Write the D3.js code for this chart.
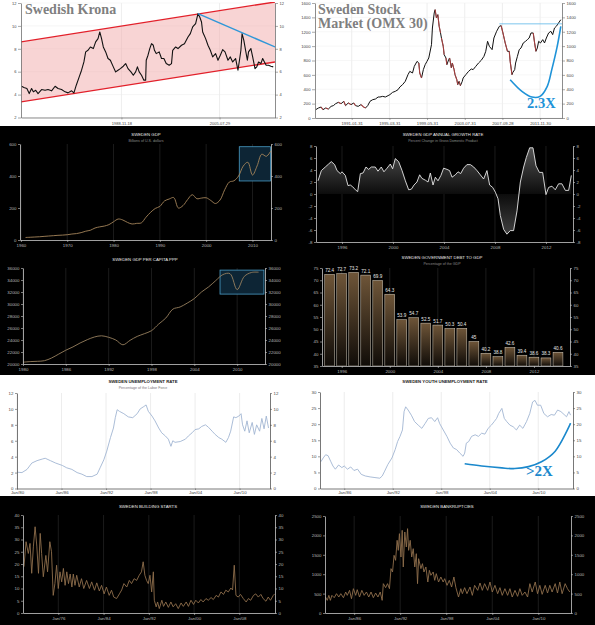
<!DOCTYPE html>
<html><head><meta charset="utf-8">
<script src="https://cdn.jsdelivr.net/npm/d3@7"></script>
<style>html,body{margin:0;padding:0;background:#fff;} svg{display:block;}</style>
</head><body>
<script>
// ---------------- DATA ----------------
// Swedish Krona (USD/SEK), decimal-year positions
const kronaYear = [1971.9,1972.3,1972.8,1973.2,1973.6,1973.9,1974.3,1974.7,1975.3,1975.9,1976.4,1977.0,1977.6,1978.1,1978.7,1979.3,1979.8,1980.4,1980.8,1981.2,1981.7,1982.1,1982.5,1982.8,1983.2,1983.6,1984.1,1984.5,1984.9,1985.2,1985.5,1985.8,1986.2,1986.6,1987.0,1987.5,1987.9,1988.3,1988.7,1989.2,1989.6,1990.0,1990.5,1990.9,1991.3,1991.6,1991.9,1992.3,1992.7,1993.0,1993.1,1993.4,1993.7,1994.0,1994.3,1994.5,1994.8,1995.3,1995.7,1996.1,1996.5,1997.0,1997.4,1997.6,1998.1,1998.5,1999.1,1999.6,2000.2,2000.6,2001.0,2001.5,2001.9,2002.2,2002.5,2002.7,2003.2,2003.6,2004.0,2004.4,2004.9,2005.3,2005.7,2006.1,2006.5,2007.0,2007.4,2007.8,2008.3,2008.7,2009.0,2009.2,2009.4,2009.7,2010.0,2010.3,2010.5,2010.9,2011.2,2011.6,2011.9,2012.2,2012.6,2012.9,2013.2,2013.5,2013.9,2014.3,2014.7];
const kronaValue = [4.73,4.62,4.53,4.09,4.53,4.24,4.38,4.09,4.44,4.38,4.44,4.33,4.73,4.53,4.44,4.24,4.15,4.33,4.15,4.82,5.55,6.13,6.85,7.73,7.87,8.16,8.02,8.6,8.89,9.47,8.89,8.16,7.73,7.15,7.0,6.42,5.98,6.13,6.27,6.48,6.71,6.27,5.98,5.69,5.98,6.42,5.98,5.69,5.26,5.26,7.0,7.44,8.02,8.45,8.31,7.87,7.58,7.73,7.15,7.15,6.71,6.56,6.71,7.87,8.16,8.02,8.31,8.45,9.03,9.33,9.91,10.2,11.07,10.78,10.34,9.47,8.89,8.31,7.87,7.29,7.58,7.0,7.44,7.93,7.73,7.0,7.29,6.85,7.15,6.13,7.15,7.87,9.33,8.74,7.87,7.0,7.73,8.02,7.29,6.27,6.42,6.85,6.71,7.15,6.85,6.56,6.56,6.48,6.42];
const kronaTickYears = [1988.88, 2005.57];
const kronaTickLabels = ["1988-11-18", "2005-07-29"];
const kronaYTicks = [2,4,6,8,10,12];
const channelYears = [1971.8, 2015.0];
const channelUpper = [8.6, 12.09];
const channelLower = [3.37, 6.85];
const kronaTrendYears = [2001.9, 2015.0];
const kronaTrendValues = [11.07, 8.16];

// Sweden Stock Market (OMX 30)
const omxYear = [1987.1,1987.4,1987.7,1987.9,1988.2,1988.5,1988.8,1989.05,1989.3,1989.6,1989.9,1990.2,1990.4,1990.7,1991.0,1991.3,1991.5,1991.8,1992.1,1992.4,1992.6,1992.85,1993.1,1993.4,1993.7,1994.0,1994.2,1994.5,1994.8,1995.1,1995.3,1995.6,1995.9,1996.2,1996.4,1996.7,1997.0,1997.3,1997.5,1997.8,1998.0,1998.3,1998.5,1998.6,1998.8,1999.0,1999.2,1999.4,1999.6,1999.9,2000.0,2000.2,2000.3,2000.45,2000.6,2000.75,2000.9,2001.0,2001.2,2001.3,2001.5,2001.6,2001.8,2001.9,2002.1,2002.2,2002.4,2002.5,2002.7,2002.8,2002.95,2003.1,2003.3,2003.4,2003.7,2004.0,2004.3,2004.5,2004.8,2005.1,2005.4,2005.7,2005.9,2006.1,2006.3,2006.6,2006.8,2007.1,2007.4,2007.6,2007.8,2008.05,2008.3,2008.5,2008.6,2008.8,2008.9,2009.1,2009.2,2009.4,2009.6,2009.8,2010.05,2010.3,2010.5,2010.7,2010.9,2011.15,2011.3,2011.45,2011.6,2011.75,2011.95,2012.2,2012.4,2012.6,2012.85,2013.1,2013.3,2013.5,2013.7,2013.95,2014.2];
const omxValue = [116,139,153,116,139,125,162,172,199,218,199,232,172,209,186,209,172,162,186,153,139,172,232,255,264,292,292,301,292,311,325,357,371,394,431,464,510,603,649,626,719,788,765,626,557,673,742,788,835,1020,1252,1461,1507,1391,1438,1275,1183,1113,997,881,835,742,812,835,696,765,673,603,533,464,510,450,510,557,603,649,682,673,719,765,802,858,928,1067,997,951,1113,1206,1275,1285,1183,1044,928,928,788,603,635,673,765,858,951,974,1044,1067,1090,1113,1183,1183,1044,928,974,1067,1044,1090,1044,1113,1183,1206,1160,1252,1275,1322,1368];
const omxTickYears = [1991.08, 1995.25, 1999.41, 2003.58, 2007.74, 2011.91];
const omxTickLabels = ["1991-01-31","1995-03-31","1999-05-31","2003-07-31","2007-09-28","2011-11-30"];
const omxYTicks = [0,200,400,600,800,1000,1200,1400,1600];
const omxLevelYears = [2007.4, 2014.33];
const omxLevelValue = 1310;
const omxCurveYears = [2008.6, 2009.9, 2011.0, 2011.9, 2012.7, 2013.2, 2013.8, 2014.2];
const omxCurveValues = [533, 371, 292, 301, 441, 673, 997, 1275];

// Sweden GDP (billions USD), annual, dated at year end
const gdpYear = d3.range(1960, 2014);
const gdpValue = [15.8,17.2,18.7,20.3,22.6,24.9,27.0,29.2,30.6,33.0,37.3,40.1,46.0,55.0,61.0,75.0,82.0,87.0,96.0,114,131,125,110,100,104,107,142,173,197,210,244,256,265,200,215,253,283,258,262,264,247,228,250,314,362,370,400,462,486,406,463,536,523,558];
const gdpXTicks = [1960,1970,1980,1990,2000,2010];
const gdpYTicks = [0,200,400,600];
const gdpBoxYears = [2007.15, 2013.9];
const gdpBoxValues = [369, 583];

// GDP annual growth rate (%), quarterly
const growthYear = [1994.12,1994.38,1994.69,1994.95,1995.16,1995.42,1995.61,1995.87,1996.0,1996.26,1996.47,1996.65,1996.84,1997.05,1997.23,1997.44,1997.65,1997.88,1998.09,1998.3,1998.61,1998.82,1999.08,1999.29,1999.53,1999.79,1999.97,2000.18,2000.44,2000.71,2000.97,2001.23,2001.44,2001.65,2001.88,2002.09,2002.27,2002.54,2002.75,2002.93,2003.14,2003.32,2003.53,2003.76,2003.97,2004.24,2004.44,2004.63,2004.89,2005.1,2005.31,2005.54,2005.8,2006.07,2006.33,2006.59,2006.85,2007.11,2007.37,2007.58,2007.82,2008.03,2008.24,2008.42,2008.68,2008.94,2009.2,2009.46,2009.73,2009.99,2010.25,2010.46,2010.72,2010.98,2011.22,2011.48,2011.74,2012.0,2012.21,2012.47,2012.73,2012.99,2013.25,2013.52,2013.78,2013.99];
const growthValue = [2.2,3.9,4.5,5.0,5.4,4.9,3.9,3.4,3.7,3.1,1.4,1.5,1.2,0.7,0.4,3.4,3.5,4.5,4.1,4.5,4.5,3.8,4.5,3.7,4.3,5.0,4.2,5.9,5.4,3.9,2.2,0.7,0.8,1.5,2.0,3.2,2.6,2.3,2.0,3.5,1.5,2.8,2.2,3.1,4.3,4.1,3.9,2.8,3.2,3.7,3.4,4.3,4.9,4.9,4.5,3.9,3.2,2.5,3.9,1.5,1.1,0.3,-0.8,-3.6,-5.9,-6.7,-6.1,-6.1,-2.8,2.0,4.5,6.1,7.7,7.7,4.7,3.6,3.6,-0.1,1.1,1.3,0.7,1.7,1.7,0.6,0.6,3.1];
const growthXTicks = [1996,2000,2004,2008,2012];
const growthYTicks = [-8,-6,-4,-2,0,2,4,6,8];

// GDP per capita PPP, annual, dated at year end
const pcYear = d3.range(1979, 2013);
const pcValue = [20300,20400,20450,20550,21000,21650,22300,22850,23500,24050,24500,24700,24450,24000,23200,23950,24600,25050,25550,26650,27650,29150,29500,30150,30900,32000,32850,33900,34900,35050,32400,34600,35250,35300];
const pcXTicks = [1980,1986,1992,1998,2004,2010];
const pcYTicks = [20000,22000,24000,26000,28000,30000,32000,34000,36000];
const pcBoxYears = [2007.6, 2013.75];
const pcBoxValues = [31650, 35650];

// Government debt to GDP (%), annual, dated at year end
const debtYear = d3.range(1994, 2014);
const debtValue = [72.4,72.7,73.2,72.1,69.9,64.3,53.9,54.7,52.5,51.7,50.3,50.4,45,40.2,38.8,42.6,39.4,38.6,38.3,40.6];
const debtXTicks = [1996,2000,2004,2008,2012];
const debtYTicks = [35,40,45,50,55,60,65,70,75];

// Unemployment rate (%)
const unempYear = [1980.0,1980.67,1981.35,1982.0,1982.7,1983.4,1983.8,1984.5,1985.2,1986.1,1986.7,1987.4,1988.1,1988.75,1989.4,1990.1,1990.8,1991.2,1991.7,1992.1,1992.6,1993.0,1993.25,1993.5,1993.8,1994.4,1995.0,1995.6,1996.2,1996.6,1997.1,1997.4,1997.7,1998.2,1998.6,1999.1,1999.5,2000.0,2000.4,2000.75,2001.0,2001.3,2002.0,2002.7,2003.1,2003.6,2004.0,2004.5,2004.9,2005.4,2005.8,2006.3,2006.7,2007.2,2007.6,2008.15,2008.5,2008.8,2009.2,2009.5,2009.9,2010.2,2010.4,2010.7,2011.0,2011.3,2011.7,2012.0,2012.3,2012.7,2013.0,2013.3,2013.6,2013.9];
const unempValue = [2.05,2.0,2.4,3.2,3.5,3.7,3.8,3.5,3.2,2.9,2.6,2.4,2.0,1.8,1.5,1.5,1.8,2.6,3.6,4.7,6.4,7.6,8.9,9.9,9.7,9.4,9.0,8.9,9.4,10.0,10.3,10.5,9.7,9.1,8.5,7.6,7.0,6.6,6.2,5.3,6.0,5.8,5.9,6.2,6.6,7.0,7.4,7.5,7.8,8.0,7.7,7.2,6.8,6.4,6.2,5.8,6.4,7.2,9.0,8.9,9.1,9.4,8.0,7.2,8.5,7.0,8.3,6.8,8.0,7.2,8.8,7.5,9.1,7.6];
const unempXTicks = [1980,1986,1992,1998,2004,2010];
const unempYTicks = [0,2,4,6,8,10,12];

// Youth unemployment rate (%)
const youthYear = [1983.1,1983.4,1983.7,1984.0,1984.35,1984.6,1984.9,1985.3,1985.7,1986.0,1986.4,1986.8,1987.2,1987.65,1988.1,1988.6,1989.2,1989.8,1990.4,1990.7,1991.0,1991.4,1991.9,1992.3,1992.6,1992.9,1993.2,1993.4,1993.6,1993.9,1994.3,1994.7,1995.15,1995.6,1996.0,1996.4,1996.8,1997.2,1997.55,1997.8,1998.25,1998.7,1999.1,1999.5,1999.9,2000.3,2000.7,2000.9,2001.1,2001.4,2001.75,2002.2,2002.6,2003.0,2003.4,2003.8,2004.2,2004.55,2004.85,2005.1,2005.5,2005.8,2006.1,2006.5,2006.9,2007.3,2007.7,2008.1,2008.55,2008.95,2009.3,2009.6,2009.9,2010.3,2010.7,2011.15,2011.6,2012.0,2012.4,2012.8,2013.2,2013.5,2013.8,2014.0];
const youthValue = [8.3,9.5,10.5,10.2,8.3,7.0,6.0,7.3,6.5,7.0,6.0,6.7,5.6,6.0,4.4,3.9,3.6,3.4,3.2,3.9,5.4,7.5,9.5,12.1,14.6,16.2,18.2,23.9,25.4,24.4,22.8,20.8,19.7,18.7,20.2,21.8,22.0,20.8,22.0,20.2,18.2,16.2,14.1,12.6,12.1,11.0,10.0,11.0,14.1,14.6,16.2,16.7,16.2,17.2,16.9,18.7,19.7,20.8,21.8,23.3,24.9,21.8,20.8,19.7,19.2,18.2,19.7,18.7,20.8,23.3,26.9,27.4,25.9,25.9,23.3,22.3,23.0,22.8,24.4,23.9,23.0,22.3,23.9,22.8];
const youthXTicks = [1986,1992,1998,2004,2010];
const youthYTicks = [0,5,10,15,20,25,30];
const youthCurveYears = [2000.9,2003.0,2005.5,2007.1,2008.8,2010.4,2012.1,2014.0];
const youthCurveValues = [7.7,7.0,6.4,6.2,6.8,8.3,11.6,20.3];

// Building starts (thousands)
const bsYear = [1969.93,1970.3,1970.7,1971.0,1971.3,1971.6,1971.9,1972.2,1972.5,1972.8,1973.05,1973.35,1973.8,1974.1,1974.5,1974.8,1975.1,1975.4,1975.7,1976.0,1976.3,1976.6,1976.9,1977.2,1977.5,1977.8,1978.1,1978.4,1978.65,1978.95,1979.25,1979.7,1980.1,1980.5,1981.0,1981.5,1981.9,1982.4,1982.8,1983.25,1983.65,1984.1,1984.5,1985.0,1985.4,1985.8,1986.3,1986.8,1987.2,1987.6,1988.1,1988.55,1988.95,1989.4,1989.85,1990.3,1990.7,1991.0,1991.3,1991.6,1991.9,1992.2,1992.5,1992.8,1992.97,1993.3,1993.55,1993.85,1994.3,1994.6,1995.0,1995.45,1995.9,1996.3,1996.75,1997.2,1997.7,1998.1,1998.6,1999.0,1999.45,1999.9,2000.3,2000.75,2001.2,2001.6,2002.1,2002.5,2003.0,2003.4,2003.9,2004.3,2004.75,2005.2,2005.6,2006.05,2006.5,2006.8,2007.1,2007.4,2007.8,2008.2,2008.7,2009.2,2009.6,2010.0,2010.5,2010.9,2011.35,2011.8,2012.2,2012.7,2013.1,2013.5,2014.0,2014.25];
const bsValue = [18.9,29.1,24.3,28.4,16.2,27.3,35.2,27.3,16.2,32.5,24.3,14.8,23.5,16.8,29.1,25.0,7.2,12.0,19.5,10.0,16.8,12.7,18.2,11.3,16.8,12.0,15.9,10.6,15.9,11.3,15.4,10.6,14.0,10.0,13.3,10.0,12.7,9.3,12.3,9.0,11.3,7.8,10.6,7.2,9.3,6.5,5.9,7.8,9.4,12.0,10.6,13.3,12.0,14.0,13.3,15.4,16.8,20.9,15.4,13.3,12.0,15.4,8.6,16.8,5.2,2.5,4.5,1.8,5.2,2.7,4.5,2.3,4.5,2.5,3.8,1.8,4.1,2.7,4.5,2.7,5.2,3.5,5.2,4.1,5.5,4.5,5.9,5.2,6.3,5.5,7.2,6.5,8.6,7.6,9.3,8.6,10.2,9.4,19.5,7.2,6.5,7.6,5.9,4.5,5.9,5.2,7.2,7.8,6.5,7.6,5.9,4.8,6.5,5.2,7.2,7.8];
const bsXTicks = [1976,1984,1992,2000,2008];
const bsYTicks = [0,5,10,15,20,25,30,35,40];

// Bankruptcies
const bkYear = [1982.26,1982.5,1982.7,1982.9,1983.1,1983.4,1983.7,1984.0,1984.26,1984.6,1984.9,1985.1,1985.4,1985.65,1985.9,1986.2,1986.4,1986.7,1987.0,1987.3,1987.6,1987.9,1988.2,1988.5,1988.8,1989.1,1989.4,1989.65,1989.8,1990.1,1990.35,1990.6,1990.8,1991.0,1991.2,1991.4,1991.6,1991.75,1991.9,1992.1,1992.26,1992.4,1992.6,1992.8,1992.96,1993.1,1993.3,1993.5,1993.7,1993.9,1994.1,1994.26,1994.4,1994.7,1994.9,1995.1,1995.35,1995.6,1995.8,1996.0,1996.3,1996.5,1996.7,1997.0,1997.3,1997.6,1997.8,1998.1,1998.4,1998.7,1999.0,1999.26,1999.6,1999.9,2000.1,2000.4,2000.7,2001.1,2001.4,2001.7,2002.1,2002.4,2002.7,2003.0,2003.4,2003.7,2004.0,2004.35,2004.7,2005.0,2005.3,2005.65,2006.0,2006.3,2006.6,2006.96,2007.3,2007.6,2007.9,2008.26,2008.6,2008.9,2009.2,2009.6,2009.9,2010.2,2010.5,2010.9,2011.2,2011.5,2011.8,2012.2,2012.5,2012.8,2013.1,2013.5,2013.8,2014.1];
const bkValue = [412,326,455,326,455,395,498,412,498,395,541,455,584,369,627,455,601,412,584,455,541,412,541,395,515,412,541,326,756,653,756,627,1143,1057,1486,1357,1873,1615,2045,1443,2131,1186,2088,1701,2174,1615,1873,1443,1658,1186,1529,756,1400,1143,1271,1057,1186,799,1100,971,1057,842,1014,799,928,799,885,713,842,670,928,653,412,627,498,653,498,670,455,713,584,773,584,756,584,799,541,713,498,653,455,627,455,627,412,584,429,627,455,541,412,756,541,799,498,713,481,713,515,713,541,756,515,799,498,756,627,541];
const bkXTicks = [1986,1992,1998,2004,2010];
const bkYTicks = [0,500,1000,1500,2000,2500];

// ---------------- DRAWING ----------------
const W = 595, H = 625;
const SANS = "'Liberation Sans', Arial, sans-serif";
const SERIF = "'Liberation Serif', 'Times New Roman', serif";
const yearEnd = yr => yr + 1; // annual observations are dated 31 Dec
const janLabel = yr => "Jan/" + String(yr).slice(2);

const svg = d3.select("body").append("svg").attr("width", W).attr("height", H);
const defs = svg.append("defs");
svg.append("rect").attr("width", W).attr("height", H).attr("fill", "#fff");

let clipCount = 0;
function clipRect(x0, y0, x1, y1) {
  const id = "clip" + (clipCount++);
  defs.append("clipPath").attr("id", id).append("rect")
    .attr("x", x0).attr("y", y0).attr("width", x1 - x0).attr("height", y1 - y0);
  return `url(#${id})`;
}

function panel(o) {
  const g = svg.append("g");
  const x = d3.scaleLinear().domain(o.xDomain).range(o.xRange);
  const y = d3.scaleLinear().domain(o.yDomain).range(o.yRange);
  const dark = o.dark;
  const axisCol = o.axisCol || (dark ? "#c8c8c8" : "#707070");
  const textCol = dark ? "#b8b8b8" : "#444";
  const gridCol = o.gridCol || (dark ? "#2e2e2e" : "#e0e0e0");
  const [x0, x1] = o.xRange, [yb, yt] = o.yRange;
  const fs = o.fs || 4.4, ts = o.tickSize || 2;
  o.xTicks.forEach(t => g.append("line").attr("x1", x(t)).attr("x2", x(t)).attr("y1", yb).attr("y2", yt)
    .attr("stroke", gridCol).attr("stroke-width", 0.6));
  if (o.hGrid) o.yTicks.forEach(t => g.append("line").attr("x1", x0).attr("x2", x1).attr("y1", y(t)).attr("y2", y(t))
    .attr("stroke", o.hGridCol || gridCol).attr("stroke-width", 0.5));
  const plot = g.append("g").attr("clip-path", clipRect(x0, yt - 1, x1, yb));
  const style = sel => {
    sel.attr("font-family", SANS).attr("font-size", fs);
    sel.select(".domain").attr("stroke", axisCol).attr("stroke-width", 0.8);
    sel.selectAll(".tick line").attr("stroke", axisCol).attr("stroke-width", 0.6);
    sel.selectAll(".tick text").attr("fill", textCol);
  };
  function axes() {
    const yf = o.yFmt || (d => d);
    g.append("g").attr("transform", `translate(${x0},0)`)
      .call(d3.axisLeft(y).tickValues(o.yTicks).tickSize(ts).tickSizeOuter(0).tickPadding(1.5).tickFormat(yf)).call(style);
    g.append("g").attr("transform", `translate(${x1},0)`)
      .call(d3.axisRight(y).tickValues(o.yTicks).tickSize(ts).tickSizeOuter(0).tickPadding(1.5).tickFormat(yf)).call(style);
    g.append("g").attr("transform", `translate(0,${yb})`)
      .call(d3.axisBottom(x).tickValues(o.xTicks).tickSize(o.xTickSize != null ? o.xTickSize : 2).tickSizeOuter(0)
        .tickPadding(o.xPad != null ? o.xPad : 1.5).tickFormat((d, i) => o.xLabels[i])).call(style);
    if (o.title) g.append("text").attr("x", o.titleX).attr("y", o.titleY).attr("text-anchor", "middle")
      .attr("font-family", SANS).attr("font-size", 4.3).attr("font-weight", dark ? "normal" : "bold")
      .attr("fill", dark ? "#ececec" : "#222").text(o.title);
    if (o.subtitle) g.append("text").attr("x", o.titleX).attr("y", o.subY).attr("text-anchor", "middle")
      .attr("font-family", SANS).attr("font-size", 3.6).attr("fill", dark ? "#8c8c8c" : "#777").text(o.subtitle);
  }
  return { g, plot, x, y, axes };
}

function seriesLine(p, xs, ys, color, width, curve) {
  const idx = d3.range(Math.min(xs.length, ys.length));
  const line = d3.line().x(i => p.x(xs[i])).y(i => p.y(ys[i]));
  if (curve) line.curve(curve);
  return p.plot.append("path").datum(idx).attr("d", line).attr("fill", "none")
    .attr("stroke", color).attr("stroke-width", width).attr("stroke-linejoin", "round");
}

function highlightBox(p, xs, vs) {
  p.plot.append("rect").attr("x", p.x(xs[0])).attr("y", p.y(vs[1]))
    .attr("width", p.x(xs[1]) - p.x(xs[0])).attr("height", p.y(vs[0]) - p.y(vs[1]))
    .attr("fill", "#0d2535").attr("stroke", "#4a9cc6").attr("stroke-width", 0.8);
}

// ===== Row 1: Swedish Krona =====
const p1 = panel({ xDomain: [1971.8, 2015.0], xRange: [21, 275], yDomain: [2, 12], yRange: [117.5, 3],
  dark: false, xTicks: kronaTickYears, xLabels: kronaTickLabels, yTicks: kronaYTicks, hGrid: true,
  hGridCol: "#ececec", fs: 4, tickSize: 3, xPad: 3 });
{
  const idx = d3.range(channelYears.length);
  p1.plot.append("path").datum(idx)
    .attr("d", d3.area().x(i => p1.x(channelYears[i])).y0(i => p1.y(channelLower[i])).y1(i => p1.y(channelUpper[i])))
    .attr("fill", "#f2a9a9").attr("fill-opacity", 0.5);
  seriesLine(p1, channelYears, channelUpper, "#e2202a", 1.3);
  seriesLine(p1, channelYears, channelLower, "#e2202a", 1.3);
  seriesLine(p1, kronaYear, kronaValue, "#111", 1.1);
  seriesLine(p1, kronaTrendYears, kronaTrendValues, "#2f97d8", 1.4);
  p1.axes();
  p1.g.append("text").attr("x", 25).attr("y", 13.5).attr("font-family", SERIF).attr("font-weight", "bold")
    .attr("font-size", 14).attr("fill", "#7f7f7f").text("Swedish Krona");
}

// ===== Row 1: OMX 30 =====
const p2 = panel({ xDomain: [1987.02, 2014.33], xRange: [315, 562], yDomain: [0, 1600], yRange: [118, 3],
  dark: false, xTicks: omxTickYears, xLabels: omxTickLabels, yTicks: omxYTicks, hGrid: true,
  hGridCol: "#efefef", fs: 4.2, tickSize: 3, xPad: 2.5 });
{
  seriesLine(p2, omxYear, omxValue, "#111", 1.0);
  const drops = d3.range(1, omxValue.length).filter(i => omxValue[i] < omxValue[i - 1] * 0.93);
  drops.forEach(i => {
    p2.plot.append("line").attr("x1", p2.x(omxYear[i - 1])).attr("y1", p2.y(omxValue[i - 1]))
      .attr("x2", p2.x(omxYear[i])).attr("y2", p2.y(omxValue[i]))
      .attr("stroke", "#d04a4a").attr("stroke-width", 1.1).attr("stroke-opacity", 0.75);
  });
  p2.g.append("line").attr("x1", p2.x(omxLevelYears[0])).attr("x2", p2.x(omxLevelYears[1]))
    .attr("y1", p2.y(omxLevelValue)).attr("y2", p2.y(omxLevelValue)).attr("stroke", "#5ab6e8").attr("stroke-width", 0.8);
  seriesLine(p2, omxCurveYears, omxCurveValues, "#1f93d8", 1.6, d3.curveCatmullRom.alpha(0.5));
  p2.axes();
  const t = p2.g.append("text").attr("font-family", SERIF).attr("font-weight", "bold").attr("font-size", 14).attr("fill", "#7f7f7f");
  t.append("tspan").attr("x", 318).attr("y", 13.5).text("Sweden Stock");
  t.append("tspan").attr("x", 318).attr("y", 27.5).text("Market (OMX 30)");
  p2.g.append("text").attr("x", 527).attr("y", 107.5).attr("font-family", SERIF).attr("font-weight", "bold")
    .attr("font-size", 14.5).attr("fill", "#1f93d8").text("2.3X");
}

// ===== Black band rows 2-3 =====
svg.append("rect").attr("y", 126).attr("width", W).attr("height", 249).attr("fill", "#000");

// ===== Row 2: GDP =====
const p3 = panel({ xDomain: [1959.8, 2014.0], xRange: [20, 271], yDomain: [0, 600], yRange: [240, 144],
  dark: true, xTicks: gdpXTicks, xLabels: gdpXTicks.map(String), yTicks: gdpYTicks,
  title: "SWEDEN GDP", subtitle: "Billions of U.S. dollars", titleX: 146, titleY: 135.5, subY: 141.5 });
{
  highlightBox(p3, gdpBoxYears, gdpBoxValues);
  seriesLine(p3, gdpYear.map(yearEnd), gdpValue, "#a5845a", 0.9, d3.curveCatmullRom.alpha(0.5));
  p3.axes();
}

// ===== Row 2: GDP growth =====
const p4 = panel({ xDomain: [1993.96, 2014.12], xRange: [316, 573], yDomain: [-8, 8], yRange: [242, 146],
  dark: true, xTicks: growthXTicks, xLabels: growthXTicks.map(String), yTicks: growthYTicks,
  title: "SWEDEN GDP ANNUAL GROWTH RATE", subtitle: "Percent Change in Gross Domestic Product",
  titleX: 443, titleY: 135.5, subY: 141.5 });
{
  const gid = "growthGrad";
  const gr = defs.append("linearGradient").attr("id", gid).attr("gradientUnits", "userSpaceOnUse")
    .attr("x1", 0).attr("x2", 0).attr("y1", p4.y(8)).attr("y2", p4.y(-8));
  gr.append("stop").attr("offset", 0).attr("stop-color", "#555");
  gr.append("stop").attr("offset", 0.5).attr("stop-color", "#0c0c0c");
  gr.append("stop").attr("offset", 1).attr("stop-color", "#4a4a4a");
  const idx = d3.range(growthYear.length);
  p4.plot.append("path").datum(idx)
    .attr("d", d3.area().x(i => p4.x(growthYear[i])).y0(p4.y(0)).y1(i => p4.y(growthValue[i])))
    .attr("fill", `url(#${gid})`);
  seriesLine(p4, growthYear, growthValue, "#e6e6e6", 0.9);
  p4.axes();
}

// ===== Row 3: GDP per capita PPP =====
const p5 = panel({ xDomain: [1980, 2013.9], xRange: [23, 265], yDomain: [20000, 36000], yRange: [364, 268],
  dark: true, xTicks: pcXTicks, xLabels: pcXTicks.map(String), yTicks: pcYTicks,
  title: "SWEDEN GDP PER CAPITA PPP", titleX: 145, titleY: 261 });
{
  highlightBox(p5, pcBoxYears, pcBoxValues);
  seriesLine(p5, pcYear.map(yearEnd), pcValue, "#97805f", 0.9, d3.curveCatmullRom.alpha(0.5));
  p5.axes();
}

// ===== Row 3: Government debt =====
const p6 = panel({ xDomain: [1994.36, 2015.0], xRange: [322, 570], yDomain: [35, 75], yRange: [366, 268],
  dark: true, xTicks: debtXTicks, xLabels: debtXTicks.map(String), yTicks: debtYTicks,
  title: "SWEDEN GOVERNMENT DEBT TO GDP", subtitle: "Percentage of the GDP", titleX: 442, titleY: 259, subY: 265 });
{
  const bid = "barGrad";
  const bg = defs.append("linearGradient").attr("id", bid).attr("x1", 0).attr("x2", 0).attr("y1", 0).attr("y2", 1);
  bg.append("stop").attr("offset", 0).attr("stop-color", "#6e5538");
  bg.append("stop").attr("offset", 1).attr("stop-color", "#100c08");
  const bw = (p6.x(1) - p6.x(0)) * 0.82;
  debtYear.forEach((yr, i) => {
    const cx = p6.x(yearEnd(yr));
    p6.plot.append("rect").attr("x", cx - bw / 2).attr("y", p6.y(debtValue[i])).attr("width", bw)
      .attr("height", p6.y(35) - p6.y(debtValue[i])).attr("fill", `url(#${bid})`)
      .attr("stroke", "#d6cdbd").attr("stroke-width", 0.5);
    p6.g.append("text").attr("x", cx).attr("y", p6.y(debtValue[i]) - 2.5).attr("text-anchor", "middle")
      .attr("font-family", SANS).attr("font-size", 4.6).attr("fill", "#e8e8e8").text(String(debtValue[i]));
  });
  p6.axes();
}

// ===== Row 4: Unemployment =====
const p7 = panel({ xDomain: [1980, 2014.1], xRange: [17, 270], yDomain: [0, 12], yRange: [488.5, 393],
  dark: false, xTicks: unempXTicks, xLabels: unempXTicks.map(janLabel), yTicks: unempYTicks,
  xTickSize: 1.5, xPad: 1.2, axisCol: "#555",
  title: "SWEDEN UNEMPLOYMENT RATE", subtitle: "Percentage of the Labor Force", titleX: 143, titleY: 382.5, subY: 389 });
{
  seriesLine(p7, unempYear, unempValue, "#a2b5d2", 0.9);
  p7.axes();
}

// ===== Row 4: Youth unemployment =====
const p8 = panel({ xDomain: [1983.0, 2014.3], xRange: [320, 573], yDomain: [0, 30], yRange: [488.5, 392],
  dark: false, xTicks: youthXTicks, xLabels: youthXTicks.map(janLabel), yTicks: youthYTicks,
  xTickSize: 1.5, xPad: 1.2, axisCol: "#555",
  title: "SWEDEN YOUTH UNEMPLOYMENT RATE", titleX: 445, titleY: 382.5 });
{
  seriesLine(p8, youthYear, youthValue, "#a2b5d2", 0.9);
  seriesLine(p8, youthCurveYears, youthCurveValues, "#1a88cc", 1.6, d3.curveCatmullRom.alpha(0.5));
  p8.axes();
  p8.g.append("text").attr("x", 526).attr("y", 476).attr("font-family", SERIF).attr("font-weight", "bold")
    .attr("font-size", 15).attr("fill", "#1a88cc").text(">2X");
}

// ===== Black band row 5 =====
svg.append("rect").attr("y", 496).attr("width", W).attr("height", H - 496).attr("fill", "#000");

// ===== Row 5: Building starts =====
const p9 = panel({ xDomain: [1969.76, 2014.3], xRange: [23, 275], yDomain: [0, 40], yRange: [613, 515],
  dark: true, xTicks: bsXTicks, xLabels: bsXTicks.map(janLabel), yTicks: bsYTicks,
  title: "SWEDEN BUILDING STARTS", titleX: 148, titleY: 507.5 });
{
  seriesLine(p9, bsYear, bsValue, "#8e6e4c", 0.9);
  p9.axes();
}

// ===== Row 5: Bankruptcies =====
const p10 = panel({ xDomain: [1982.2, 2014.26], xRange: [325, 571], yDomain: [0, 2500], yRange: [613, 516],
  dark: true, xTicks: bkXTicks, xLabels: bkXTicks.map(janLabel), yTicks: bkYTicks,
  title: "SWEDEN BANKRUPTCIES", titleX: 447, titleY: 507.5 });
{
  seriesLine(p10, bkYear, bkValue, "#8e6e4c", 0.9);
  p10.axes();
}
</script>
</body></html>
